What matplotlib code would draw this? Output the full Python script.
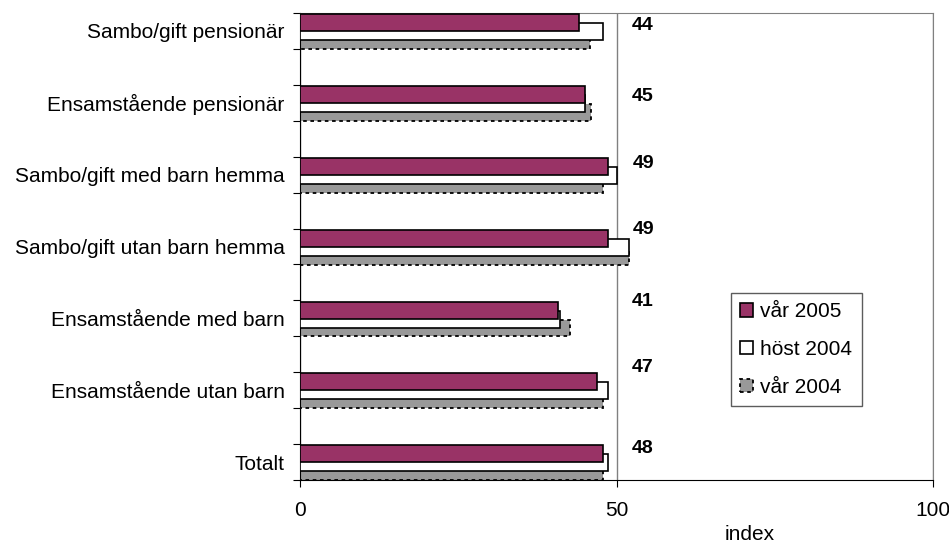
import numpy as np
import matplotlib.pyplot as plt

plt.rcParams['font.family'] = ['Liberation Sans', 'DejaVu Sans']

# data, top to bottom
categories = ['Sambo/gift pensionär', 'Ensamstående pensionär',
              'Sambo/gift med barn hemma', 'Sambo/gift utan barn hemma',
              'Ensamstående med barn', 'Ensamstående utan barn', 'Totalt']
var2005 = [44, 45, 48.7, 48.7, 40.8, 46.9, 47.8]
host2004 = [47.8, 45, 50, 51.9, 41, 48.7, 48.7]
var2004 = [45.8, 46, 47.9, 52, 42.6, 47.9, 47.9]
labels = ['44', '45', '49', '49', '41', '47', '48']

fig = plt.figure(figsize=(9.49, 5.44), dpi=100)
ax = fig.add_axes([300/949, 1-480/544, 633/949, 467/544])

n = len(categories)
slot = np.arange(n) * 2  # every other slot is an empty category
h = 0.47

ax.barh(slot + 0.77, var2004, height=h, color='#999999', edgecolor='black',
        linewidth=1.3, linestyle=(0, (2, 2)), zorder=2, label='vår 2004')
ax.barh(slot + 0.52, host2004, height=h, color='white', edgecolor='black',
        linewidth=1.2, zorder=3, label='höst 2004')
ax.barh(slot + 0.27, var2005, height=h, color='#993366', edgecolor='black',
        linewidth=1.2, zorder=4, label='vår 2005')

# value labels (placed by hand in the original)
lab_off = [0.36, 0.33, 0.18, 0.02, 0.04, -0.14, 0.12]
for i, t in enumerate(labels):
    ax.text(54.2, slot[i] + lab_off[i], t, ha='center', va='center',
            fontsize=14, fontweight='bold')

ax.set_xlim(0, 100)
ax.set_ylim(2*n - 1, 0)
ax.set_xticks([0, 50, 100])
ax.set_xticklabels(['0', '50', '100'], fontsize=15)
ax.tick_params(axis='x', length=5, pad=10)
ax.set_yticks(np.arange(0, 2*n))
ax.set_yticklabels([])
ax.set_yticks(slot + 0.5, minor=True)
ax.set_yticklabels(categories, minor=True, fontsize=15)
ax.tick_params(axis='y', which='major', length=5)
ax.tick_params(axis='y', which='minor', length=0, pad=11)

ax.xaxis.grid(True, color='#808080', linewidth=1)
ax.set_axisbelow(True)
for s in ['top', 'right']:
    ax.spines[s].set_color('#808080')
for s in ['left', 'bottom']:
    ax.spines[s].set_color('black')

fig.text(750/949, 1-534/544, 'index', ha='center', va='center', fontsize=15)

handles, labs = ax.get_legend_handles_labels()
leg = ax.legend(handles[::-1], labs[::-1], loc='upper left',
                bbox_to_anchor=(431/633, 187/467), borderaxespad=0,
                fontsize=15, frameon=True, fancybox=False, edgecolor='#333333',
                handlelength=0.6, handleheight=0.6, handletextpad=0.35,
                labelspacing=0.9, borderpad=0.45)
leg.get_frame().set_linewidth(1)

fig.savefig('out.png', dpi=100)
